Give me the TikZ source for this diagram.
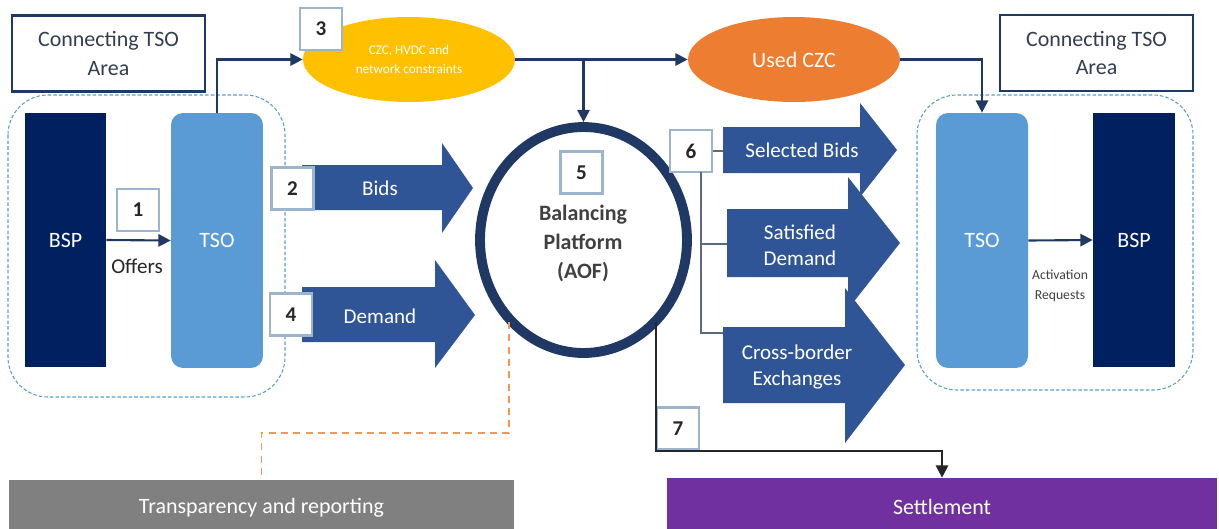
\documentclass[tikz,border=0pt]{standalone}
\usepackage{fontspec}
\setmainfont{Carlito}
\usetikzlibrary{shapes.geometric,arrows.meta}

\definecolor{bspnavy}{HTML}{002060}
\definecolor{tsoblue}{HTML}{5B9BD5}
\definecolor{arrowblue}{HTML}{2F5597}
\definecolor{ringnavy}{HTML}{203864}
\definecolor{czcyellow}{HTML}{FFC000}
\definecolor{czcorange}{HTML}{ED7D31}
\definecolor{repgray}{HTML}{808080}
\definecolor{setpurple}{HTML}{7030A0}
\definecolor{numframe}{HTML}{9DB4CE}
\definecolor{linknavy}{HTML}{1F3864}
\definecolor{textgray}{HTML}{333F50}
\definecolor{branchgray}{HTML}{5A6B80}

\begin{document}
\begin{tikzpicture}[x=0.02cm,y=-0.02cm,
  link/.style={draw=linknavy, line width=1.2pt, -{Triangle[length=7pt,width=7pt]}},
  area/.style={draw=tsoblue, line width=0.6pt, dash pattern=on 2pt off 1.2pt, rounded corners=0.8cm},
  areabox/.style={draw=linknavy, line width=1.2pt, fill=white, align=center, text=textgray,
    minimum width=3.86cm, minimum height=1.52cm, font=\fontsize{12.5}{16}\selectfont},
  bspbox/.style={fill=bspnavy, text=white, minimum width=1.62cm, minimum height=5.08cm,
    inner sep=0pt, font=\fontsize{12.5}{15}\selectfont},
  tsobox/.style={fill=tsoblue, text=white, rounded corners=0.24cm, minimum width=1.84cm,
    minimum height=5.1cm, inner sep=0pt, font=\fontsize{12.5}{15}\selectfont},
  numbox/.style={draw=numframe, line width=1.2pt, fill=white, minimum size=0.84cm, inner sep=0pt,
    text=black!85, font=\bfseries\fontsize{12}{14}\selectfont},
  blockarrow/.style={fill=arrowblue},
  arrowtext/.style={text=white, align=center, font=\fontsize{12}{15}\selectfont},
  cloud/.style={ellipse, text=white, align=center, minimum width=4.24cm, minimum height=1.7cm, inner sep=0pt},
  branch/.style={draw=branchgray, line width=0.8pt},
  report/.style={draw=czcorange!80, line width=0.9pt, dash pattern=on 4pt off 3pt},
  settle/.style={draw=black!85, line width=1.2pt, -{Triangle[length=7pt,width=7pt]}},
  footbox/.style={text=white, inner sep=0pt, font=\fontsize{12.5}{15}\selectfont}]
\useasboundingbox (0,0) rectangle (1219,528);

% dashed TSO areas
\draw[area] (8,95) rectangle (285,397);
\draw[area] (917,95) rectangle (1193,390);

% area titles
\node[areabox] (areaL) at (108.5,53.5) {Connecting TSO\\Area};
\node[areabox] (areaR) at (1096.5,53) {Connecting TSO\\Area};

% left side
\node[bspbox] (bspL) at (65.5,240) {BSP};
\node[tsobox] (tsoL) at (217,240.5) {TSO};
\draw[link] (bspL.east) -- (tsoL.west);
\node[numbox] (n1) at (138,210) {1};
\node[font=\fontsize{12}{14}\selectfont, text=black!85] (offers) at (137,266) {Offers};

% right side
\node[tsobox] (tsoR) at (982,240.5) {TSO};
\node[bspbox, minimum width=1.64cm] (bspR) at (1134,240) {BSP};
\draw[link] (tsoR.east) -- (bspR.west);
\node[align=center, text=black!75, font=\fontsize{7.8}{11}\selectfont] (actreq) at (1060,286) {Activation\\Requests};

% constraints
\node[cloud, fill=czcyellow, font=\fontsize{7.5}{11}\selectfont] (czc) at (409,59.5) {CZC, HVDC and\\network constraints};
\node[cloud, fill=czcorange, font=\fontsize{12.5}{15}\selectfont] (used) at (794,59.5) {Used CZC};

% platform
\node[ellipse, draw=ringnavy, line width=5.6pt, minimum width=4.14cm, minimum height=4.52cm,
  inner sep=0pt] (ring) at (583.5,240) {};
\node[align=center, text=black!75, font=\bfseries\fontsize{12.5}{16.5}\selectfont] (aof) at (583,243)
  {Balancing\\Platform\\(AOF)};
\node[numbox] (n5) at (581.5,172.5) {5};

\draw[link] (tsoL.north) |- (czc.west);
\draw[link] (czc.east) -- (used.west);
\draw[link] (czc.east -| ring.north) -- (ring.north);
\draw[link] (used.east) -| (tsoR.north);
\node[numbox] (n3) at (321,29) {3};

% bids and demand
\fill[blockarrow] (302,165) -- (442,165) -- (442,143) -- (473,188) -- (442,233) -- (442,210) -- (302,210) -- cycle;
\fill[blockarrow] (302,287) -- (435,287) -- (435,260) -- (475,315) -- (435,368) -- (435,342) -- (302,342) -- cycle;
\node[arrowtext] (bids) at (380,188) {Bids};
\node[arrowtext] (demand) at (380,316) {Demand};
\node[numbox] (n2) at (292.5,188.5) {2};
\node[numbox] (n4) at (291,314.5) {4};

% results
\fill[blockarrow] (723,127) -- (860,127) -- (860,103) -- (897,150) -- (860,197) -- (860,173) -- (723,173) -- cycle;
\fill[blockarrow] (727,209) -- (848,209) -- (848,177) -- (900,243) -- (848,309) -- (848,277) -- (727,277) -- cycle;
\fill[blockarrow] (723,327) -- (845,327) -- (845,288) -- (905,365) -- (845,443) -- (845,403) -- (723,403) -- cycle;
\node[arrowtext] (selbids) at (802,150) {Selected Bids};
\node[arrowtext] (satdem) at (800,245) {Satisfied\\Demand};
\node[arrowtext] (xborder) at (797,367) {Cross-border\\Exchanges};

\node[numbox] (n6) at (691,151) {6};
\coordinate (selTail) at (723,151);
\coordinate (satTail) at (727,244);
\coordinate (xTail) at (723,333);
\coordinate (split6) at (701,172);
\draw[branch] (n6.east) -- (selTail);
\draw[branch] (split6) |- (satTail);
\draw[branch] (split6) |- (xTail);

% reporting and settlement
\node[footbox, fill=repgray, minimum width=10.1cm, minimum height=1.12cm] (rep) at (261.5,508) {Transparency and reporting};
\node[footbox, fill=setpurple, minimum width=11cm, minimum height=1.16cm] (settle) at (942,507) {Settlement};

\coordinate (ringSW) at (509,322);
\coordinate (ringSE) at (656,322);
\draw[report] (ringSW) -- ++(0,111) -| (rep.north);
\node[numbox] (n7) at (678,428.5) {7};
\draw[settle] (ringSE) |- (n7.south east) -| (settle.north);
\end{tikzpicture}
\end{document}
